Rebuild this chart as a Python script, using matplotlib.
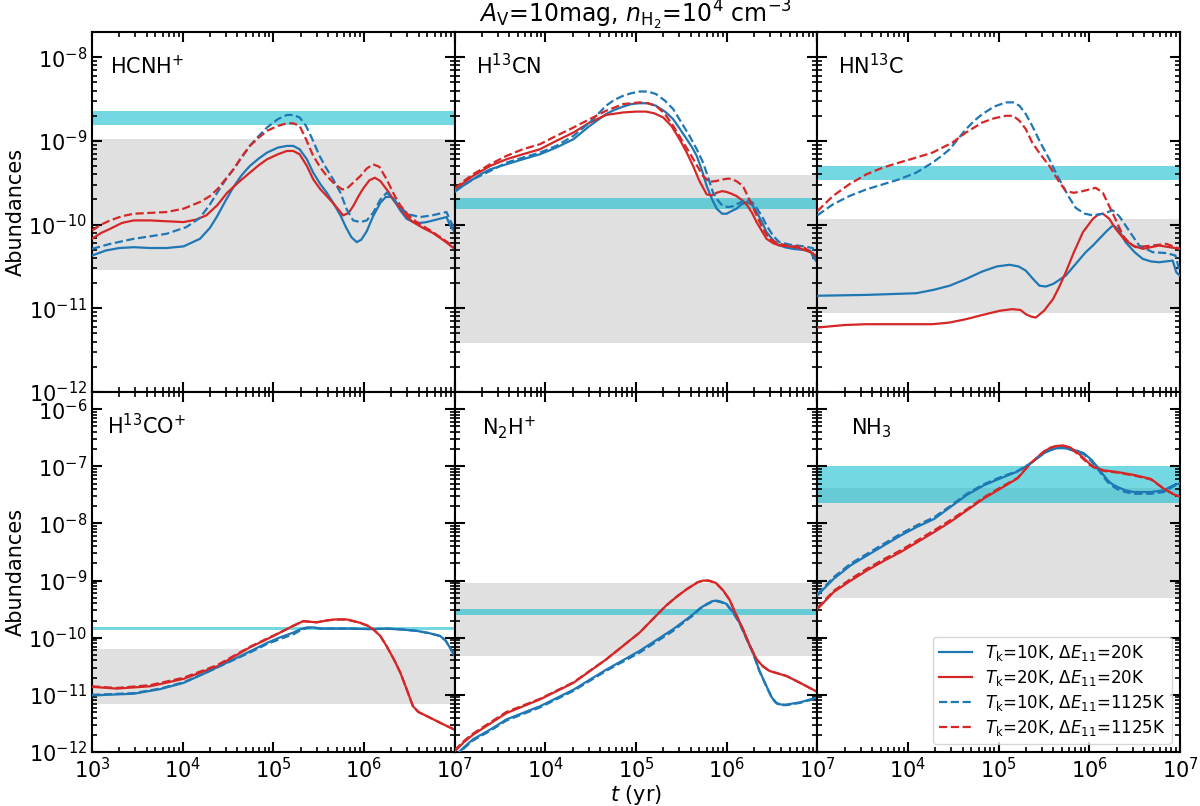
import numpy as np
import matplotlib
matplotlib.use("Agg")
import matplotlib.pyplot as plt
from matplotlib.ticker import LogLocator, LogFormatterSciNotation, FuncFormatter

# ---------------- data (log10 t [yr], log10 abundance) ----------------
# Panel 1: HCNH+
hcnh_b1_t = [3.00,3.15,3.30,3.46,3.64,3.82,4.01,4.19,4.30,4.38,4.47,4.56,4.65,4.74,4.84,4.93,5.05,5.15,5.22,5.29,5.37,5.44,5.52,5.59,5.66,5.74,5.80,5.86,5.92,5.97,6.03,6.10,6.18,6.24,6.30,6.36,6.40,6.47,6.54,6.62,6.69,6.80,6.91,6.95,7.0]
hcnh_b1_y = [-10.37,-10.31,-10.28,-10.27,-10.28,-10.28,-10.26,-10.17,-10.04,-9.90,-9.72,-9.55,-9.41,-9.30,-9.21,-9.14,-9.08,-9.06,-9.06,-9.10,-9.22,-9.38,-9.52,-9.62,-9.74,-9.89,-10.03,-10.15,-10.21,-10.18,-10.08,-9.90,-9.74,-9.67,-9.67,-9.76,-9.83,-9.93,-9.97,-9.98,-9.97,-9.94,-9.91,-10.01,-10.09]
hcnh_b2_t = [3.00,3.20,3.46,3.64,3.82,4.04,4.19,4.30,4.38,4.47,4.56,4.65,4.74,4.84,4.93,5.05,5.15,5.22,5.29,5.36,5.43,5.51,5.58,5.66,5.74,5.81,5.88,5.96,6.03,6.10,6.18,6.25,6.32,6.40,6.50,6.62,6.75,6.91,6.95,7.0]
hcnh_b2_y = [-10.29,-10.23,-10.17,-10.14,-10.11,-10.03,-9.92,-9.76,-9.62,-9.47,-9.34,-9.20,-9.06,-8.94,-8.84,-8.74,-8.69,-8.69,-8.72,-8.82,-8.98,-9.18,-9.32,-9.46,-9.62,-9.82,-9.95,-9.97,-9.95,-9.86,-9.70,-9.62,-9.68,-9.80,-9.88,-9.91,-9.89,-9.85,-9.95,-10.05]
hcnh_r1_t = [3.00,3.10,3.20,3.33,3.46,3.64,3.82,4.01,4.15,4.26,4.38,4.49,4.62,4.74,4.84,4.93,5.05,5.15,5.22,5.29,5.37,5.44,5.52,5.59,5.68,5.77,5.83,5.88,5.94,5.99,6.06,6.12,6.18,6.25,6.33,6.40,6.47,6.54,6.65,6.76,6.88,7.0]
hcnh_r1_y = [-10.17,-10.10,-10.05,-9.98,-9.95,-9.95,-9.96,-9.97,-9.94,-9.89,-9.77,-9.62,-9.49,-9.38,-9.29,-9.22,-9.16,-9.12,-9.12,-9.16,-9.30,-9.46,-9.58,-9.66,-9.77,-9.89,-9.86,-9.78,-9.66,-9.57,-9.47,-9.44,-9.48,-9.58,-9.71,-9.81,-9.90,-9.97,-10.04,-10.10,-10.19,-10.29]
hcnh_r2_t = [3.00,3.10,3.20,3.33,3.46,3.64,3.82,4.01,4.19,4.30,4.38,4.47,4.56,4.65,4.74,4.84,4.93,5.05,5.15,5.22,5.29,5.36,5.44,5.52,5.59,5.68,5.76,5.81,5.88,5.96,6.03,6.10,6.17,6.25,6.33,6.40,6.50,6.58,6.76,7.0]
hcnh_r2_y = [-10.07,-10.00,-9.95,-9.90,-9.87,-9.86,-9.85,-9.81,-9.73,-9.66,-9.58,-9.46,-9.34,-9.19,-9.06,-8.96,-8.88,-8.82,-8.79,-8.79,-8.82,-8.98,-9.18,-9.32,-9.42,-9.52,-9.58,-9.57,-9.50,-9.42,-9.33,-9.28,-9.31,-9.46,-9.64,-9.77,-9.90,-9.97,-10.09,-10.27]

# Panel 2: H13CN
h13cn_b1_t = [3.00,3.10,3.20,3.30,3.39,3.57,3.75,3.94,4.12,4.31,4.40,4.49,4.58,4.67,4.76,4.86,4.95,5.04,5.13,5.22,5.32,5.41,5.48,5.56,5.62,5.67,5.73,5.78,5.84,5.89,5.95,6.00,6.05,6.11,6.16,6.22,6.28,6.33,6.39,6.44,6.50,6.55,6.64,6.73,6.92,6.96,7.0]
h13cn_b1_y = [-9.61,-9.53,-9.46,-9.39,-9.34,-9.28,-9.22,-9.16,-9.08,-8.98,-8.90,-8.82,-8.75,-8.68,-8.63,-8.59,-8.56,-8.55,-8.55,-8.58,-8.65,-8.74,-8.85,-8.98,-9.08,-9.18,-9.36,-9.54,-9.70,-9.81,-9.87,-9.87,-9.84,-9.81,-9.76,-9.73,-9.76,-9.85,-9.97,-10.09,-10.17,-10.23,-10.27,-10.29,-10.31,-10.40,-10.45]
h13cn_b2_t = [3.00,3.10,3.20,3.39,3.57,3.75,3.94,4.12,4.31,4.40,4.49,4.58,4.67,4.76,4.86,4.95,5.04,5.13,5.22,5.32,5.41,5.50,5.59,5.67,5.74,5.80,5.85,5.91,5.96,6.02,6.07,6.14,6.22,6.28,6.33,6.39,6.44,6.51,6.58,6.70,6.85,6.95,7.0]
h13cn_b2_y = [-9.60,-9.53,-9.46,-9.36,-9.26,-9.20,-9.14,-9.06,-8.94,-8.86,-8.78,-8.68,-8.58,-8.51,-8.46,-8.43,-8.41,-8.41,-8.44,-8.52,-8.62,-8.78,-8.94,-9.10,-9.26,-9.45,-9.62,-9.72,-9.78,-9.79,-9.78,-9.74,-9.70,-9.73,-9.80,-9.90,-10.01,-10.13,-10.21,-10.24,-10.26,-10.28,-10.45]
h13cn_r1_t = [3.00,3.10,3.20,3.39,3.57,3.75,3.94,4.12,4.31,4.49,4.67,4.86,5.00,5.11,5.20,5.30,5.39,5.48,5.56,5.63,5.70,5.78,5.84,5.89,5.95,6.00,6.05,6.11,6.16,6.22,6.28,6.33,6.39,6.44,6.51,6.58,6.77,6.95,7.0]
h13cn_r1_y = [-9.58,-9.50,-9.42,-9.30,-9.22,-9.16,-9.10,-9.00,-8.90,-8.78,-8.69,-8.66,-8.65,-8.65,-8.67,-8.72,-8.82,-8.98,-9.14,-9.30,-9.48,-9.64,-9.65,-9.62,-9.60,-9.61,-9.63,-9.66,-9.70,-9.76,-9.86,-9.97,-10.08,-10.17,-10.22,-10.25,-10.27,-10.34,-10.41]
h13cn_r2_t = [3.00,3.10,3.20,3.39,3.57,3.75,3.94,4.12,4.31,4.49,4.67,4.86,4.95,5.04,5.13,5.22,5.32,5.41,5.50,5.59,5.67,5.74,5.81,5.88,5.96,6.02,6.07,6.12,6.18,6.25,6.33,6.40,6.47,6.56,6.66,6.85,7.0]
h13cn_r2_y = [-9.57,-9.48,-9.40,-9.28,-9.18,-9.10,-9.04,-8.94,-8.84,-8.74,-8.64,-8.56,-8.55,-8.54,-8.55,-8.58,-8.68,-8.82,-8.98,-9.14,-9.29,-9.42,-9.49,-9.48,-9.46,-9.45,-9.46,-9.49,-9.54,-9.70,-9.89,-10.05,-10.17,-10.22,-10.25,-10.27,-10.39]

# Panel 3: HN13C
hn13c_b1_t = [3.00,3.54,4.09,4.28,4.46,4.64,4.82,4.98,5.12,5.22,5.30,5.38,5.45,5.52,5.60,5.74,5.85,5.96,6.04,6.11,6.19,6.26,6.32,6.40,6.50,6.59,6.68,6.77,6.92,6.96,7.0]
hn13c_b1_y = [-10.85,-10.84,-10.82,-10.78,-10.73,-10.65,-10.56,-10.50,-10.48,-10.50,-10.55,-10.65,-10.73,-10.74,-10.71,-10.61,-10.47,-10.33,-10.25,-10.17,-10.08,-10.01,-10.05,-10.21,-10.33,-10.41,-10.44,-10.45,-10.43,-10.57,-10.61]
hn13c_b2_t = [3.00,3.17,3.35,3.54,3.72,3.90,4.09,4.27,4.37,4.46,4.55,4.64,4.73,4.82,4.95,5.08,5.16,5.23,5.30,5.37,5.46,5.56,5.64,5.71,5.78,5.85,5.95,6.04,6.15,6.26,6.33,6.40,6.48,6.55,6.70,6.85,6.95,7.0]
hn13c_b2_y = [-9.89,-9.76,-9.66,-9.58,-9.52,-9.46,-9.38,-9.26,-9.18,-9.10,-8.98,-8.86,-8.76,-8.68,-8.59,-8.54,-8.54,-8.58,-8.68,-8.82,-9.02,-9.22,-9.40,-9.54,-9.68,-9.80,-9.87,-9.89,-9.87,-9.83,-9.90,-10.01,-10.14,-10.25,-10.33,-10.34,-10.37,-10.57]
hn13c_r1_t = [3.00,3.30,3.54,4.27,4.46,4.64,4.82,5.01,5.15,5.24,5.30,5.36,5.41,5.50,5.60,5.67,5.74,5.83,5.93,6.04,6.10,6.15,6.22,6.29,6.38,6.48,6.59,6.77,7.0]
hn13c_r1_y = [-11.23,-11.20,-11.19,-11.19,-11.17,-11.13,-11.08,-11.03,-11.01,-11.02,-11.07,-11.10,-11.11,-11.03,-10.89,-10.74,-10.57,-10.33,-10.09,-9.93,-9.88,-9.87,-9.93,-10.05,-10.17,-10.25,-10.29,-10.25,-10.29]
hn13c_r2_t = [3.00,3.17,3.35,3.54,3.72,3.90,4.09,4.27,4.38,4.49,4.64,4.82,4.95,5.08,5.16,5.23,5.30,5.37,5.46,5.56,5.65,5.74,5.83,5.93,6.00,6.07,6.15,6.22,6.30,6.37,6.44,6.51,6.70,6.85,7.0]
hn13c_r2_y = [-9.84,-9.66,-9.52,-9.40,-9.32,-9.26,-9.20,-9.14,-9.08,-9.02,-8.90,-8.78,-8.73,-8.70,-8.70,-8.76,-8.86,-9.02,-9.16,-9.30,-9.46,-9.60,-9.62,-9.60,-9.58,-9.56,-9.62,-9.78,-9.96,-10.13,-10.22,-10.27,-10.25,-10.23,-10.29]

# Panel 4: H13CO+
h13co_b1_t = [3.00,3.46,3.75,4.01,4.26,4.56,4.74,4.93,5.08,5.22,5.30,5.37,5.44,5.52,5.59,5.85,6.10,6.25,6.45,6.58,6.72,6.84,6.90,6.95,7.0]
h13co_b1_y = [-11.01,-10.98,-10.90,-10.79,-10.61,-10.38,-10.24,-10.09,-9.99,-9.91,-9.85,-9.82,-9.82,-9.84,-9.84,-9.84,-9.85,-9.84,-9.86,-9.88,-9.92,-9.97,-10.05,-10.18,-10.32]
h13co_b2_t = [3.00,3.46,3.75,4.01,4.26,4.56,4.74,4.93,5.08,5.22,5.30,5.37,5.44,5.52,5.59,5.85,6.10,6.25,6.45,6.58,6.72,6.84,6.90,6.95,7.0]
h13co_b2_y = [-11.00,-10.97,-10.89,-10.78,-10.61,-10.39,-10.26,-10.11,-10.02,-9.94,-9.87,-9.83,-9.82,-9.84,-9.84,-9.84,-9.85,-9.84,-9.86,-9.88,-9.92,-9.97,-10.05,-10.18,-10.32]
h13co_r1_t = [3.00,3.27,3.64,4.01,4.38,4.74,4.95,5.11,5.22,5.33,5.40,5.48,5.58,5.68,5.81,5.96,6.04,6.10,6.18,6.25,6.33,6.40,6.47,6.54,6.60,6.69,6.88,7.0]
h13co_r1_y = [-10.86,-10.89,-10.85,-10.72,-10.50,-10.17,-10.01,-9.88,-9.79,-9.71,-9.72,-9.73,-9.70,-9.68,-9.68,-9.74,-9.79,-9.85,-9.97,-10.15,-10.38,-10.61,-10.90,-11.20,-11.30,-11.37,-11.52,-11.61]
h13co_r2_t = [3.00,3.27,3.64,4.01,4.38,4.74,4.95,5.11,5.22,5.33,5.40,5.48,5.58,5.68,5.81,5.96,6.04,6.10,6.18,6.25,6.33,6.40,6.47,6.54,6.60,6.69,6.88,7.0]
h13co_r2_y = [-10.85,-10.88,-10.83,-10.70,-10.48,-10.16,-10.00,-9.88,-9.79,-9.71,-9.72,-9.73,-9.70,-9.68,-9.68,-9.74,-9.79,-9.85,-9.97,-10.15,-10.38,-10.61,-10.90,-11.20,-11.30,-11.37,-11.52,-11.61]

# Panel 5: N2H+
n2h_b1_t = [3.00,3.10,3.20,3.39,3.57,3.94,4.31,4.67,5.04,5.41,5.52,5.63,5.70,5.78,5.84,5.89,5.94,6.00,6.07,6.14,6.21,6.29,6.36,6.44,6.50,6.55,6.60,6.66,6.81,6.99]
n2h_b1_y = [-12.08,-11.92,-11.78,-11.61,-11.43,-11.20,-10.91,-10.56,-10.23,-9.85,-9.72,-9.59,-9.49,-9.41,-9.36,-9.35,-9.37,-9.41,-9.55,-9.73,-9.98,-10.26,-10.57,-10.85,-11.05,-11.14,-11.17,-11.17,-11.13,-11.05]
n2h_b2_t = [3.00,3.10,3.20,3.39,3.57,3.94,4.31,4.67,5.04,5.41,5.52,5.63,5.70,5.78,5.84,5.89,5.94,6.00,6.07,6.14,6.21,6.29,6.36,6.44,6.50,6.55,6.60,6.66,6.81,6.99]
n2h_b2_y = [-12.10,-11.94,-11.80,-11.63,-11.45,-11.22,-10.93,-10.58,-10.26,-9.88,-9.74,-9.61,-9.50,-9.42,-9.37,-9.36,-9.38,-9.42,-9.56,-9.74,-9.99,-10.27,-10.58,-10.86,-11.06,-11.15,-11.18,-11.18,-11.14,-11.06]
n2h_r1_t = [3.00,3.10,3.20,3.57,3.94,4.31,4.67,5.04,5.33,5.45,5.56,5.68,5.74,5.80,5.88,5.96,6.03,6.10,6.18,6.25,6.33,6.40,6.47,6.66,6.81,6.99]
n2h_r1_y = [-11.99,-11.83,-11.70,-11.32,-11.08,-10.79,-10.38,-9.91,-9.44,-9.28,-9.15,-9.03,-9.00,-9.00,-9.04,-9.17,-9.33,-9.58,-9.85,-10.12,-10.38,-10.50,-10.58,-10.67,-10.79,-10.94]
n2h_r2_t = [3.00,3.10,3.20,3.57,3.94,4.31,4.67,5.04,5.33,5.45,5.56,5.68,5.74,5.80,5.88,5.96,6.03,6.10,6.18,6.25,6.33,6.40,6.47,6.66,6.81,6.99]
n2h_r2_y = [-11.97,-11.81,-11.68,-11.30,-11.07,-10.78,-10.38,-9.91,-9.44,-9.28,-9.15,-9.03,-9.00,-9.00,-9.04,-9.17,-9.33,-9.58,-9.85,-10.12,-10.38,-10.50,-10.58,-10.67,-10.79,-10.94]

# Panel 6: NH3
nh3_b1_t = [3.00,3.18,3.37,3.55,3.74,3.92,4.10,4.29,4.47,4.65,4.84,5.02,5.21,5.35,5.50,5.58,5.65,5.72,5.79,5.87,5.94,6.02,6.09,6.15,6.20,6.25,6.31,6.40,6.49,6.68,6.82,6.93,7.0]
nh3_b1_y = [-9.26,-8.97,-8.73,-8.56,-8.38,-8.21,-8.06,-7.92,-7.71,-7.50,-7.33,-7.21,-7.09,-6.95,-6.77,-6.71,-6.68,-6.68,-6.70,-6.73,-6.77,-6.88,-7.01,-7.14,-7.24,-7.31,-7.36,-7.42,-7.45,-7.45,-7.42,-7.33,-7.30]
nh3_b2_t = [3.00,3.18,3.37,3.55,3.74,3.92,4.10,4.29,4.47,4.65,4.84,5.02,5.21,5.35,5.50,5.58,5.65,5.72,5.79,5.87,5.94,6.02,6.09,6.15,6.20,6.25,6.31,6.40,6.49,6.68,6.82,6.93,7.0]
nh3_b2_y = [-9.24,-8.94,-8.70,-8.53,-8.35,-8.18,-8.03,-7.89,-7.69,-7.48,-7.31,-7.19,-7.08,-6.95,-6.77,-6.71,-6.68,-6.68,-6.71,-6.75,-6.79,-6.91,-7.04,-7.17,-7.27,-7.34,-7.40,-7.45,-7.48,-7.48,-7.45,-7.35,-7.30]
nh3_r1_t = [3.00,3.18,3.37,3.55,3.74,3.92,4.10,4.29,4.47,4.65,4.84,5.02,5.21,5.35,5.50,5.58,5.65,5.72,5.79,5.87,5.94,6.00,6.05,6.16,6.31,6.49,6.68,6.82,6.93,7.0]
nh3_r1_y = [-9.50,-9.20,-9.00,-8.82,-8.65,-8.50,-8.33,-8.15,-7.97,-7.77,-7.56,-7.39,-7.21,-6.95,-6.74,-6.67,-6.64,-6.64,-6.67,-6.76,-6.86,-6.95,-7.01,-7.07,-7.10,-7.15,-7.22,-7.39,-7.49,-7.53]
nh3_r2_t = [3.00,3.18,3.37,3.55,3.74,3.92,4.10,4.29,4.47,4.65,4.84,5.02,5.21,5.35,5.50,5.58,5.65,5.72,5.79,5.87,5.94,6.00,6.05,6.16,6.31,6.49,6.68,6.82,6.93,7.0]
nh3_r2_y = [-9.48,-9.18,-8.97,-8.79,-8.62,-8.47,-8.30,-8.12,-7.94,-7.75,-7.54,-7.37,-7.20,-6.95,-6.74,-6.67,-6.64,-6.64,-6.68,-6.78,-6.88,-6.97,-7.02,-7.08,-7.11,-7.16,-7.23,-7.39,-7.49,-7.53]

# Observed ranges: gray (low, high), cyan (low, high)
species = [r'HCNH$^{+}$', r'H$^{13}$CN', r'HN$^{13}$C', r'H$^{13}$CO$^{+}$', r'N$_2$H$^{+}$', r'NH$_3$']
gray_lo = [2.9e-11, 3.9e-12, 8.7e-12, 6.9e-12, 4.8e-11, 4.9e-10]
gray_hi = [1.05e-9, 3.95e-10, 1.16e-10, 6.4e-11, 9.0e-10, 4.2e-8]
cyan_lo = [1.55e-9, 1.52e-10, 3.45e-10, 1.34e-10, 2.46e-10, 2.3e-8]
cyan_hi = [2.28e-9, 2.08e-10, 5.0e-10, 1.54e-10, 3.13e-10, 1.03e-7]

legend_labels = [r'$T_\mathrm{k}$=10K, $\Delta E_{11}$=20K',
                 r'$T_\mathrm{k}$=20K, $\Delta E_{11}$=20K',
                 r'$T_\mathrm{k}$=10K, $\Delta E_{11}$=1125K',
                 r'$T_\mathrm{k}$=20K, $\Delta E_{11}$=1125K']

panels = [
    (hcnh_b1_t, hcnh_b1_y, hcnh_r1_t, hcnh_r1_y, hcnh_b2_t, hcnh_b2_y, hcnh_r2_t, hcnh_r2_y),
    (h13cn_b1_t, h13cn_b1_y, h13cn_r1_t, h13cn_r1_y, h13cn_b2_t, h13cn_b2_y, h13cn_r2_t, h13cn_r2_y),
    (hn13c_b1_t, hn13c_b1_y, hn13c_r1_t, hn13c_r1_y, hn13c_b2_t, hn13c_b2_y, hn13c_r2_t, hn13c_r2_y),
    (h13co_b1_t, h13co_b1_y, h13co_r1_t, h13co_r1_y, h13co_b2_t, h13co_b2_y, h13co_r2_t, h13co_r2_y),
    (n2h_b1_t, n2h_b1_y, n2h_r1_t, n2h_r1_y, n2h_b2_t, n2h_b2_y, n2h_r2_t, n2h_r2_y),
    (nh3_b1_t, nh3_b1_y, nh3_r1_t, nh3_r1_y, nh3_b2_t, nh3_b2_y, nh3_r2_t, nh3_r2_y),
]

# label positions (axes fraction) per panel
label_x = [0.050, 0.058, 0.058, 0.040, 0.074, 0.094]

BLUE = '#1f77b4'
RED = '#d62728'
CYAN = '#17becf'
GRAY = '#e0e0e0'

plt.rcParams['font.family'] = ['DejaVu Sans']
plt.rcParams['mathtext.fontset'] = 'dejavusans'

fig, axes = plt.subplots(2, 3, figsize=(12, 8.06), dpi=100)
fig.subplots_adjust(left=0.0767, right=0.9833, top=0.9603, bottom=0.067, wspace=0, hspace=0)

styles = [(BLUE, '-'), (RED, '-'), (BLUE, '--'), (RED, '--')]

def fmt_factory(skip_first):
    base = LogFormatterSciNotation()
    def f(x, pos):
        if skip_first and np.isclose(x, 1e3):
            return ''
        return base(x, pos)
    return f

for i, ax in enumerate(axes.flat):
    row, col = divmod(i, 3)
    ax.set_xscale('log')
    ax.set_yscale('log')
    ax.set_xlim(1e3, 1e7)
    ax.set_ylim(1e-12, 2e-8 if row == 0 else 2e-6)
    ax.axhspan(gray_lo[i], gray_hi[i], color=GRAY, lw=0, zorder=0)
    ax.axhspan(cyan_lo[i], cyan_hi[i], color=CYAN, alpha=0.6, lw=0, zorder=1)
    data = panels[i]
    for k in range(4):
        t = 10 ** np.array(data[2 * k])
        y = 10 ** np.array(data[2 * k + 1])
        c, ls = styles[k]
        ax.plot(t, y, color=c, ls=ls, lw=1.6, label=legend_labels[k], zorder=3)
    ax.text(label_x[i], 0.882, species[i], transform=ax.transAxes, fontsize=15,
            ha='left', va='baseline')
    ax.yaxis.set_major_locator(LogLocator(base=10, numticks=30))
    ax.yaxis.set_minor_locator(LogLocator(base=10, subs=np.arange(2, 10), numticks=30))
    ax.xaxis.set_major_locator(LogLocator(base=10, numticks=30))
    ax.xaxis.set_minor_locator(LogLocator(base=10, subs=np.arange(2, 10), numticks=30))
    ax.tick_params(which='both', direction='in', top=True, right=True, labelsize=15)
    ax.tick_params(which='major', length=7, width=1.5)
    ax.tick_params(which='minor', length=3.8, width=1.2)
    for sp in ax.spines.values():
        sp.set_linewidth(1.5)
    if col > 0:
        ax.tick_params(labelleft=False)
    else:
        ax.set_ylabel('Abundances', fontsize=15, labelpad=2)
    if row == 0:
        ax.tick_params(labelbottom=False)
    else:
        ax.xaxis.set_major_formatter(FuncFormatter(fmt_factory(col > 0)))

axes[1, 1].set_xlabel(r'$t$ (yr)', fontsize=15, labelpad=1)
axes[0, 1].set_title(r'$A_\mathrm{V}$=10mag, $n_\mathrm{H_2}$=10$^4$ cm$^{-3}$', fontsize=17, pad=3)
axes[1, 2].legend(loc='lower right', fontsize=12, labelspacing=0.3, borderpad=0.35,
                  borderaxespad=0.5)

fig.savefig('out.png', dpi=100)
